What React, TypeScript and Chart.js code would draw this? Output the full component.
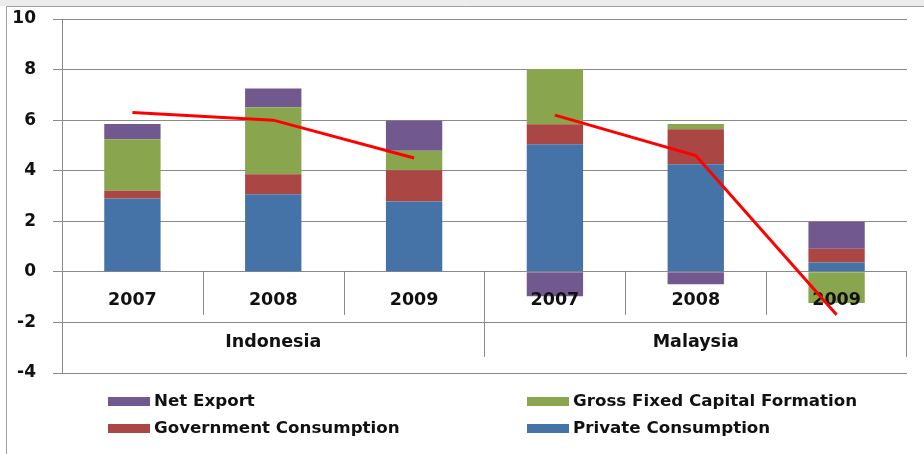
import React, { useEffect, useRef } from "react";
import { Chart, registerables } from "chart.js";

Chart.register(...registerables);

const categories = ["2007", "2008", "2009", "2007", "2008", "2009"];
const groups = ["Indonesia", "Malaysia"];
const privateConsumption = [2.9, 3.07, 2.78, 5.05, 4.26, 0.37];
const governmentConsumption = [0.31, 0.79, 1.24, 0.79, 1.38, 0.54];
const grossFixedCapital = [2.03, 2.65, 0.77, 2.18, 0.21, -1.23];
const netExport = [0.61, 0.74, 1.19, -0.96, -0.49, 1.07];
const gdpIndonesia = [6.3, 6.0, 4.5, null, null, null];
const gdpMalaysia = [null, null, null, 6.2, 4.6, -1.7];
const yTicks = [10, 8, 6, 4, 2, 0, -2, -4];

const COLORS = {
  private: "#4572A7",
  gov: "#AA4643",
  gfcf: "#89A54E",
  nx: "#71588F",
  line: "#FF0000",
  grid: "#8a8a8a",
};

const FONT = "'DejaVu Sans', sans-serif";

export default function App() {
  const ref = useRef<HTMLCanvasElement | null>(null);

  useEffect(() => {
    document.body.style.margin = "0";
    const canvas = ref.current;
    if (!canvas) return;

    const framePlugin = {
      id: "frame",
      beforeDraw(chart: any) {
        const ctx = chart.ctx;
        ctx.save();
        ctx.fillStyle = "#ffffff";
        ctx.fillRect(0, 0, chart.width, chart.height);
        ctx.fillStyle = "#ececec";
        ctx.fillRect(0, 0, chart.width, 6);
        ctx.strokeStyle = "#a0a0a0";
        ctx.lineWidth = 1;
        ctx.beginPath();
        ctx.moveTo(6.5, chart.height);
        ctx.lineTo(6.5, 6.5);
        ctx.lineTo(chart.width, 6.5);
        ctx.stroke();
        ctx.restore();
      },
    };

    const axisLabelsPlugin = {
      id: "axisLabels",
      afterDatasetDraw(chart: any, args: any) {
        if (args.index !== 0) return;
        const ctx = chart.ctx;
        const xs = chart.scales.x;
        const ys = chart.scales.y;
        const area = chart.chartArea;
        const y0 = ys.getPixelForValue(0);
        const bound = (i: number) =>
          (xs.getPixelForValue(i) + xs.getPixelForValue(i + 1)) / 2;
        ctx.save();
        ctx.strokeStyle = COLORS.grid;
        ctx.lineWidth = 1;
        const shortB = [0, 1, 3, 4].map(bound);
        const longB = [bound(2), area.right];
        ctx.beginPath();
        shortB.forEach((x) => {
          const px = Math.round(x) + 0.5;
          ctx.moveTo(px, y0);
          ctx.lineTo(px, y0 + 43);
        });
        longB.forEach((x) => {
          const px = Math.round(x) - 0.5;
          ctx.moveTo(px, y0);
          ctx.lineTo(px, y0 + 85);
        });
        ctx.stroke();
        ctx.fillStyle = "#111111";
        ctx.textAlign = "center";
        ctx.textBaseline = "middle";
        ctx.font = `bold 17.5px ${FONT}`;
        categories.forEach((c, i) => {
          ctx.fillText(c, xs.getPixelForValue(i), y0 + 29);
        });
        groups.forEach((g, gi) => {
          const cx = (xs.getPixelForValue(gi * 3) + xs.getPixelForValue(gi * 3 + 2)) / 2;
          ctx.fillText(g, cx, y0 + 71);
        });
        ctx.restore();
      },
    };

    const legendItems = [
      { label: "Net Export", color: COLORS.nx, col: 0, row: 0 },
      { label: "Gross Fixed Capital Formation", color: COLORS.gfcf, col: 1, row: 0 },
      { label: "Government Consumption", color: COLORS.gov, col: 0, row: 1 },
      { label: "Private Consumption", color: COLORS.private, col: 1, row: 1 },
    ];

    const legendPlugin = {
      id: "customLegend",
      afterDraw(chart: any) {
        const ctx = chart.ctx;
        ctx.save();
        ctx.font = `bold 16.7px ${FONT}`;
        ctx.textBaseline = "middle";
        ctx.textAlign = "left";
        const colX = [108, 527];
        const rowY = [401.5, 428.5];
        legendItems.forEach((it) => {
          const x = colX[it.col];
          const y = rowY[it.row];
          ctx.fillStyle = it.color;
          ctx.fillRect(x, y - 4.5, 42, 9);
          ctx.fillStyle = "#111111";
          ctx.fillText(it.label, x + 46, y + 0.5);
        });
        ctx.restore();
      },
    };

    const chart = new Chart(canvas, {
      type: "bar",
      data: {
        labels: categories,
        datasets: [
          {
            label: "Private Consumption",
            data: privateConsumption,
            backgroundColor: COLORS.private,
            stack: "bars",
            order: 0,
          },
          {
            label: "Government Consumption",
            data: governmentConsumption,
            backgroundColor: COLORS.gov,
            stack: "bars",
            order: 0,
          },
          {
            label: "Gross Fixed Capital Formation",
            data: grossFixedCapital,
            backgroundColor: COLORS.gfcf,
            stack: "bars",
            order: 0,
          },
          {
            label: "Net Export",
            data: netExport,
            backgroundColor: COLORS.nx,
            stack: "bars",
            order: 0,
          },
          {
            type: "line",
            label: "GDP Indonesia",
            data: gdpIndonesia,
            borderColor: COLORS.line,
            borderWidth: 3,
            pointRadius: 0,
            pointHoverRadius: 0,
            tension: 0,
            spanGaps: false,
            stack: "gdp1",
            order: -1,
          } as any,
          {
            type: "line",
            label: "GDP Malaysia",
            data: gdpMalaysia,
            borderColor: COLORS.line,
            borderWidth: 3,
            pointRadius: 0,
            pointHoverRadius: 0,
            tension: 0,
            spanGaps: false,
            stack: "gdp2",
            order: -1,
          } as any,
        ],
      },
      options: {
        animation: false,
        responsive: false,
        maintainAspectRatio: false,
        layout: { autoPadding: false, padding: { left: 6, top: 19, right: 17, bottom: 81 } },
        plugins: {
          legend: { display: false },
          tooltip: { enabled: false },
        },
        datasets: {
          bar: { barPercentage: 0.4, categoryPercentage: 1 },
        },
        scales: {
          x: {
            stacked: true,
            display: false,
          },
          y: {
            stacked: true,
            min: -4,
            max: 10,
            afterFit: (scale: any) => {
              scale.width = 56;
              scale.paddingTop = 0;
              scale.paddingBottom = 0;
            },
            afterBuildTicks: (scale: any) => {
              scale.ticks = yTicks.map((v) => ({ value: v }));
            },
            grid: {
              color: COLORS.grid,
              lineWidth: 1,
              tickLength: 9,
              drawTicks: true,
            },
            border: { display: true, color: COLORS.grid, width: 1 },
            ticks: {
              color: "#111111",
              padding: 17,
              font: { family: FONT, size: 17, weight: "bold" },
            },
          },
        },
      },
      plugins: [framePlugin, axisLabelsPlugin, legendPlugin],
    });

    return () => chart.destroy();
  }, []);

  return (
    <div style={{ width: 924, height: 454, position: "relative" }}>
      <canvas ref={ref} width={924} height={454} style={{ width: 924, height: 454, display: "block" }} />
    </div>
  );
}
